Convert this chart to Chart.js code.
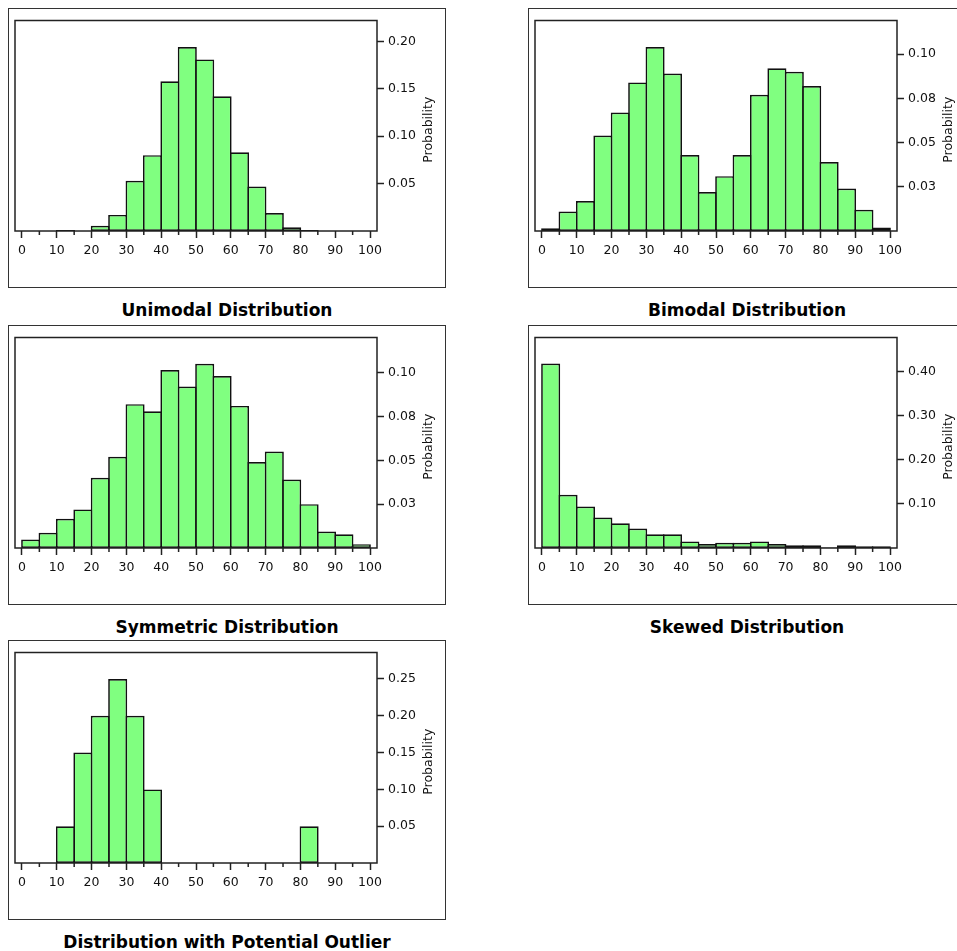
<!DOCTYPE html>
<html>
<head>
<meta charset="utf-8">
<script src="https://cdn.jsdelivr.net/npm/chart.js@4.4.1/dist/chart.umd.min.js"></script>
<style>
  html, body { margin: 0; padding: 0; background: #fff; overflow: hidden; width: 957px; height: 951px; }
  .panel { position: absolute; width: 438px; height: 280px; box-sizing: border-box; border: 1px solid #333; background: #fff; }
  .panel canvas { display: block; }
  .title { position: absolute; width: 438px; text-align: center; font: bold 17px "DejaVu Sans", sans-serif; line-height: 20px; color: #000; }
</style>
</head>
<body>
<script>
// bins of width 5 from 0 to 100
const binStarts = [0, 5, 10, 15, 20, 25, 30, 35, 40, 45, 50, 55, 60, 65, 70, 75, 80, 85, 90, 95];

const unimodalValues  = [null, null, 0.001, null, 0.0055, 0.017, 0.053, 0.080, 0.158, 0.194, 0.181, 0.142, 0.083, 0.047, 0.019, 0.004, 0.001, null, null, null];
const bimodalValues   = [0.0015, 0.011, 0.017, 0.054, 0.067, 0.084, 0.104, 0.089, 0.043, 0.022, 0.031, 0.043, 0.077, 0.092, 0.090, 0.082, 0.039, 0.024, 0.012, 0.002];
const symmetricValues = [0.0048, 0.0087, 0.0167, 0.022, 0.040, 0.052, 0.082, 0.078, 0.1015, 0.092, 0.105, 0.098, 0.081, 0.049, 0.055, 0.039, 0.025, 0.0094, 0.0078, 0.0022];
const skewedValues    = [0.419, 0.121, 0.094, 0.069, 0.056, 0.044, 0.031, 0.031, 0.015, 0.009, 0.012, 0.012, 0.015, 0.009, 0.006, 0.006, 0.001, 0.0065, 0.004, 0.004];
const outlierValues   = [null, null, 0.05, 0.15, 0.20, 0.25, 0.20, 0.10, null, null, null, null, null, null, null, null, 0.05, null, null, null];

const titles = ['Unimodal Distribution', 'Bimodal Distribution', 'Symmetric Distribution', 'Skewed Distribution', 'Distribution with Potential Outlier'];

const xTickValues = [0, 10, 20, 30, 40, 50, 60, 70, 80, 90, 100];
const xMinorTicks = [5, 15, 25, 35, 45, 55, 65, 75, 85, 95];

const yMaxes = [0.222, 0.119, 0.12, 0.478, 0.286];
const yTickValues = [
  [0.05, 0.10, 0.15, 0.20],
  [0.025, 0.05, 0.075, 0.10],
  [0.025, 0.05, 0.075, 0.10],
  [0.10, 0.20, 0.30, 0.40],
  [0.05, 0.10, 0.15, 0.20, 0.25]
];
const yTickLabels = [
  ['0.05', '0.10', '0.15', '0.20'],
  ['0.03', '0.05', '0.08', '0.10'],
  ['0.03', '0.05', '0.08', '0.10'],
  ['0.10', '0.20', '0.30', '0.40'],
  ['0.05', '0.10', '0.15', '0.20', '0.25']
];

const allValues = [unimodalValues, bimodalValues, symmetricValues, skewedValues, outlierValues];
const panelPos = [[8, 8], [528, 8], [8, 325], [528, 325], [8, 640]];

const tickFont = { family: '"DejaVu Sans", sans-serif', size: 12.5 };

// box around plot area, short minor ticks, and the rotated axis title
const framePlugin = {
  id: 'frame',
  afterDatasetsDraw(chart) {
    const ctx = chart.ctx;
    const a = chart.chartArea;
    const xs = chart.scales.x;
    ctx.save();
    ctx.strokeStyle = '#222';
    ctx.lineWidth = 1.5;
    ctx.strokeRect(a.left, a.top, a.right - a.left, a.bottom - a.top);
    ctx.beginPath();
    xMinorTicks.forEach(v => {
      const px = xs.getPixelForValue(v);
      ctx.moveTo(px, a.bottom);
      ctx.lineTo(px, a.bottom + 4);
    });
    ctx.stroke();
    ctx.translate(a.right + 52, (a.top + a.bottom) / 2 + 4);
    ctx.rotate(-Math.PI / 2);
    ctx.font = '12.5px "DejaVu Sans", sans-serif';
    ctx.fillStyle = '#111';
    ctx.textAlign = 'center';
    ctx.textBaseline = 'middle';
    ctx.fillText('Probability', 0, 0);
    ctx.restore();
  }
};

allValues.forEach((values, i) => {
  const [left, top] = panelPos[i];

  const panel = document.createElement('div');
  panel.className = 'panel';
  panel.style.left = left + 'px';
  panel.style.top = top + 'px';
  const canvas = document.createElement('canvas');
  canvas.width = 436;
  canvas.height = 278;
  canvas.style.width = '436px';
  canvas.style.height = '278px';
  panel.appendChild(canvas);
  document.body.appendChild(panel);

  const title = document.createElement('div');
  title.className = 'title';
  title.style.left = left + 'px';
  title.style.top = (top + 292) + 'px';
  title.textContent = titles[i];
  document.body.appendChild(title);

  new Chart(canvas.getContext('2d'), {
    type: 'bar',
    data: {
      datasets: [{
        data: binStarts.map((b, k) => ({ x: b + 2.5, y: values[k] })),
        backgroundColor: '#80ff80',
        borderColor: '#111',
        borderWidth: 1.7,
        borderSkipped: false,
        barPercentage: 1.095,
        categoryPercentage: 1
      }]
    },
    options: {
      responsive: false,
      animation: false,
      layout: { padding: { left: 6, top: 6, right: 0, bottom: 0 } },
      plugins: { legend: { display: false }, tooltip: { enabled: false } },
      scales: {
        x: {
          type: 'linear',
          offset: false,
          min: -2,
          max: 102,
          afterBuildTicks: scale => { scale.ticks = xTickValues.map(v => ({ value: v })); },
          afterFit: scale => { scale.height = 56; },
          ticks: { autoSkip: false, maxRotation: 0, padding: 5, color: '#111', font: tickFont },
          grid: { offset: false, drawOnChartArea: false, drawTicks: true, tickLength: 7, tickColor: '#222', tickWidth: 1.5 },
          border: { display: false }
        },
        y: {
          position: 'right',
          min: 0,
          max: yMaxes[i],
          afterBuildTicks: scale => { scale.ticks = yTickValues[i].map(v => ({ value: v })); },
          afterFit: scale => { scale.width = 68; },
          ticks: {
            padding: 4,
            color: '#111',
            font: tickFont,
            callback: (v, idx) => yTickLabels[i][idx]
          },
          grid: { drawOnChartArea: false, drawTicks: true, tickLength: 7, tickColor: '#222', tickWidth: 1.5 },
          border: { display: false }
        }
      }
    },
    plugins: [framePlugin]
  });
});
</script>
</body>
</html>
